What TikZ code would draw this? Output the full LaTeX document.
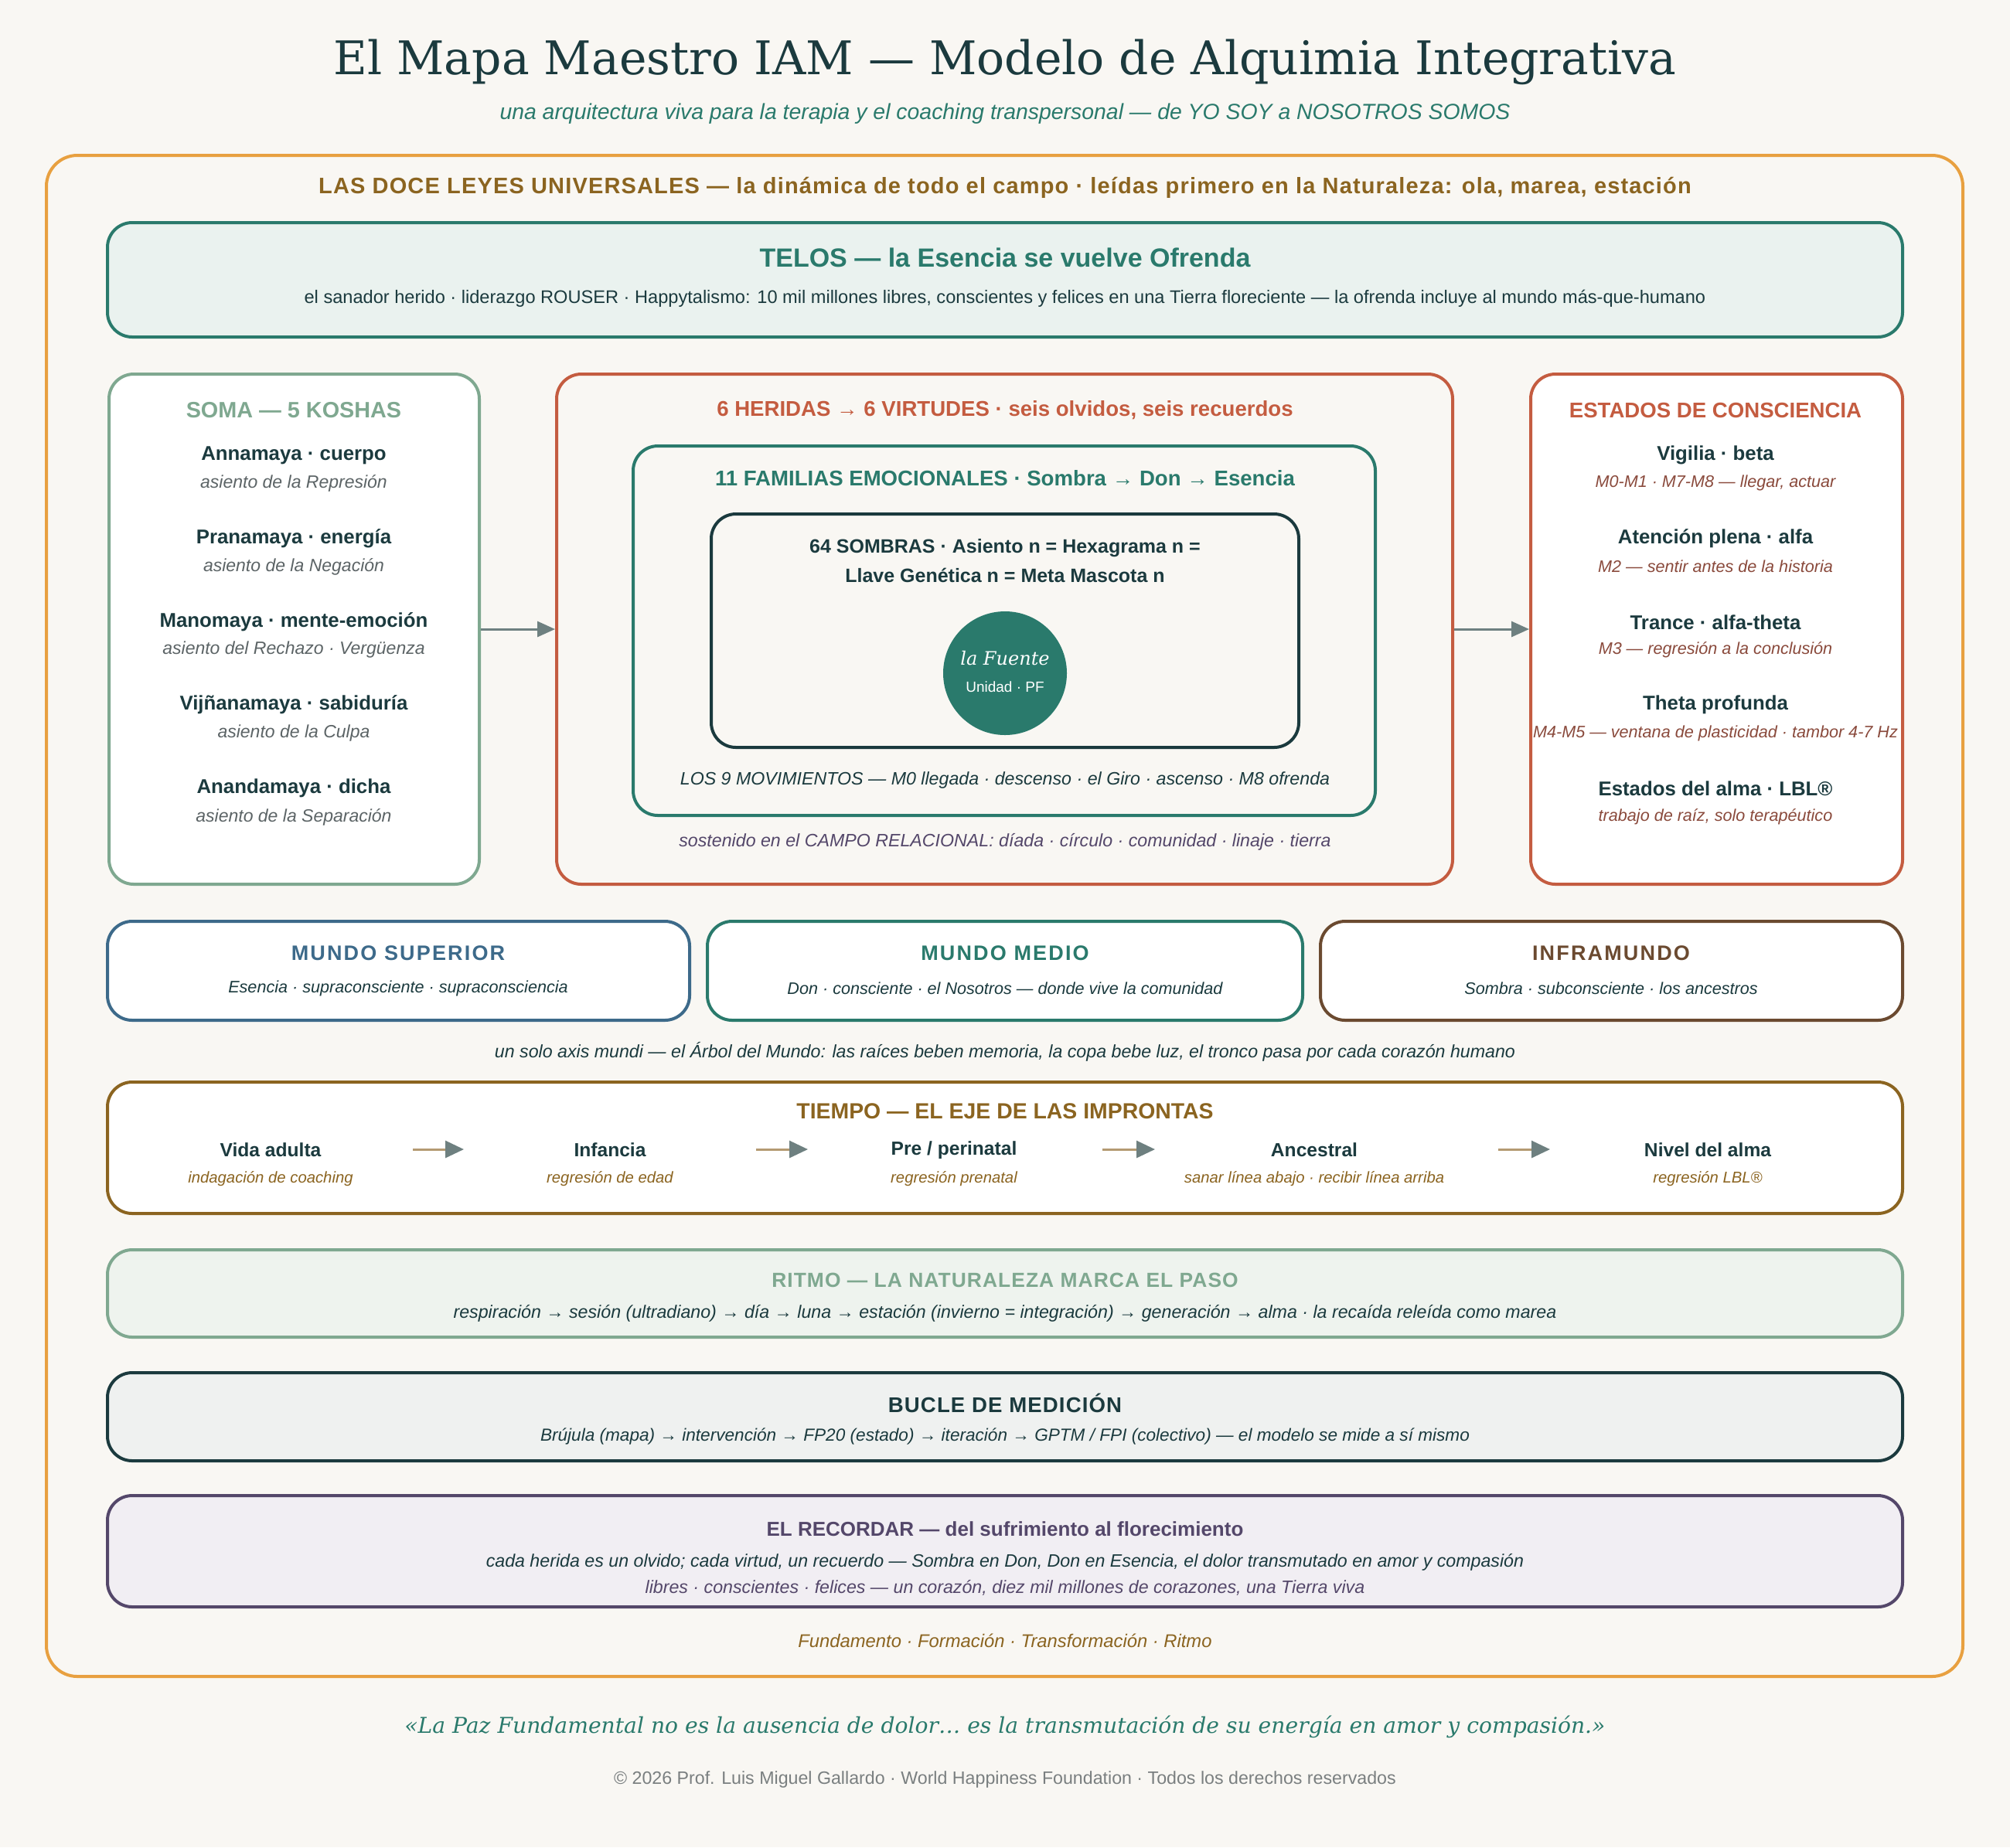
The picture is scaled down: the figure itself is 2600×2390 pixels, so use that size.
\documentclass[tikz,border=0pt]{standalone}
\usepackage{fontspec}
\setmainfont{Liberation Sans}
\newfontfamily\seriffam{DejaVu Serif}
\newfontfamily\spacedfam[LetterSpace=4]{Liberation Sans}
\newfontfamily\widefam[LetterSpace=8]{Liberation Sans}
\usetikzlibrary{arrows.meta}
\definecolor{bg}{HTML}{F9F7F3}
\definecolor{dark}{HTML}{1B3A3E}
\definecolor{teal}{HTML}{2A7A6C}
\definecolor{sage}{HTML}{7FA890}
\definecolor{terra}{HTML}{C45C40}
\definecolor{gold}{HTML}{8B6420}
\definecolor{orange}{HTML}{E8A040}
\definecolor{blue}{HTML}{3D6A8A}
\definecolor{brown}{HTML}{6B4A30}
\definecolor{purple}{HTML}{54476A}
\definecolor{greyit}{HTML}{5C6466}
\definecolor{redit}{HTML}{8A4A3C}
\definecolor{arrgrey}{HTML}{6E8080}
\definecolor{tan}{HTML}{B49A72}
\definecolor{telosfill}{HTML}{EAF2EF}
\definecolor{ritmofill}{HTML}{EEF3EE}
\definecolor{buclefill}{HTML}{EFF1F0}
\definecolor{recfill}{HTML}{F1EEF3}
\definecolor{copygrey}{HTML}{7A7F80}
\newcommand\fsz[1]{\fontsize{#1pt}{#1pt}\selectfont}
\begin{document}
\begin{tikzpicture}[x=0.5pt,y=-0.5pt,
  box/.style={draw, rounded corners=16pt, line width=2pt, inner sep=0pt},
  txt/.style={inner sep=0pt},
  hd/.style={txt, font=\bfseries\fsz{13.8}},
  sp/.style={txt, font=\spacedfam\bfseries\fsz{13.5}},
  wsp/.style={txt, font=\widefam\bfseries\fsz{13.5}},
  itm/.style={txt, font=\bfseries\fsz{12.9}, text=dark},
  its/.style={txt, font=\itshape\fsz{11.6}},
  eis/.style={txt, font=\itshape\fsz{10.8}, text=redit},
  sis/.style={txt, font=\itshape\fsz{11.5}, text=greyit},
  tim/.style={txt, font=\bfseries\fsz{12.3}, text=dark},
  tis/.style={txt, font=\itshape\fsz{10.15}, text=gold},
  mis/.style={txt, font=\itshape\fsz{10.8}, text=dark},
  arr/.style={line width=1.5pt, draw=arrgrey, -{Triangle[length=11.5pt,width=10pt,fill=arrgrey]}},
  tarr/.style={line width=1.5pt, draw=tan, -{Triangle[length=12pt,width=11pt,color=arrgrey,fill=arrgrey]}}
]
\useasboundingbox[fill=bg] (0,0) rectangle (2600,2390);

% title
\node[txt, font=\seriffam\fsz{30}, text=dark] (title) at (1300,80) {El Mapa Maestro IAM — Modelo de Alquimia Integrativa};
\node[txt, font=\itshape\fsz{14.2}, text=teal] (subtitle) at (1300,147) {una arquitectura viva para la terapia y el coaching transpersonal — de YO SOY a NOSOTROS SOMOS};

% outer frame
\node[box, draw=orange, rounded corners=20pt, minimum width=2479*0.5pt, minimum height=1968*0.5pt] (frame) at (1299.5,1185) {};
\node[txt, font=\spacedfam\bfseries\fsz{14.5}, text=gold] (leyes) at (1300,243) {LAS DOCE LEYES UNIVERSALES — la dinámica de todo el campo · leídas primero en la Naturaleza: ola, marea, estación};

% telos
\node[box, draw=teal, fill=telosfill, minimum width=2322*0.5pt, minimum height=148*0.5pt] (telos) at (1300,362) {};
\node[txt, font=\bfseries\fsz{17}, text=teal] (telosT) at (1300,333) {TELOS — la Esencia se vuelve Ofrenda};
\node[txt, font=\fsz{11.8}, text=dark] (telosB) at (1300,386) {el sanador herido · liderazgo ROUSER · Happytalismo: 10 mil millones libres, conscientes y felices en una Tierra floreciente — la ofrenda incluye al mundo más-que-humano};

% soma
\node[box, draw=sage, fill=white, minimum width=479*0.5pt, minimum height=660*0.5pt] (soma) at (380.5,814) {};
\node[hd, text=sage, font=\bfseries\fsz{14.4}] (somaT) at (380,531) {SOMA — 5 KOSHAS};
\node[itm] (s1) at (380,589) {Annamaya · cuerpo};
\node[sis] (s1i) at (380,625) {asiento de la Represión};
\node[itm] (s2) at (380,697) {Pranamaya · energía};
\node[sis] (s2i) at (380,733) {asiento de la Negación};
\node[itm] (s3) at (380,805) {Manomaya · mente-emoción};
\node[sis] (s3i) at (380,841) {asiento del Rechazo · Vergüenza};
\node[itm] (s4) at (380,912) {Vijñanamaya · sabiduría};
\node[sis] (s4i) at (380,949) {asiento de la Culpa};
\node[itm] (s5) at (380,1020) {Anandamaya · dicha};
\node[sis] (s5i) at (380,1057) {asiento de la Separación};

% heridas
\node[box, draw=terra, fill=bg, minimum width=1159*0.5pt, minimum height=660*0.5pt] (heridas) at (1299.5,814) {};
\node[hd, text=terra] (heridasT) at (1300,531) {6 HERIDAS → 6 VIRTUDES · seis olvidos, seis recuerdos};
\node[box, draw=teal, fill=bg, minimum width=960*0.5pt, minimum height=478*0.5pt] (familias) at (1299,816) {};
\node[hd, text=teal] (familiasT) at (1300,619) {11 FAMILIAS EMOCIONALES · Sombra → Don → Esencia};
\node[box, draw=dark, fill=bg, minimum width=760*0.5pt, minimum height=302*0.5pt] (sombras) at (1300,816) {};
\node[txt, font=\bfseries\fsz{12.5}, text=dark] (sombrasA) at (1300,709) {64 SOMBRAS · Asiento n = Hexagrama n =};
\node[txt, font=\bfseries\fsz{12.5}, text=dark] (sombrasB) at (1300,744) {Llave Genética n = Meta Mascota n};
\node[circle, fill=teal, minimum size=160*0.5pt, inner sep=0pt] (fuente) at (1300,871) {};
\node[txt, font=\seriffam\itshape\fsz{12}, text=white] (fuenteA) at (1300,852) {la Fuente};
\node[txt, font=\fsz{9.5}, text=white] (fuenteB) at (1300,889) {Unidad · PF};
\node[its, text=dark] (movs) at (1300,1009) {LOS 9 MOVIMIENTOS — M0 llegada · descenso · el Giro · ascenso · M8 ofrenda};
\node[its, text=purple] (campo) at (1300,1089) {sostenido en el CAMPO RELACIONAL: díada · círculo · comunidad · linaje · tierra};

% estados
\node[box, draw=terra, fill=white, minimum width=481*0.5pt, minimum height=660*0.5pt] (estados) at (2220.5,814) {};
\node[hd, text=terra] (estadosT) at (2219,531) {ESTADOS DE CONSCIENCIA};
\node[itm] (e1) at (2219,589) {Vigilia · beta};
\node[eis] (e1i) at (2219,625) {M0-M1 · M7-M8 — llegar, actuar};
\node[itm] (e2) at (2219,697) {Atención plena · alfa};
\node[eis] (e2i) at (2219,733) {M2 — sentir antes de la historia};
\node[itm] (e3) at (2219,805) {Trance · alfa-theta};
\node[eis] (e3i) at (2219,841) {M3 — regresión a la conclusión};
\node[itm] (e4) at (2219,912) {Theta profunda};
\node[eis] (e4i) at (2219,949) {M4-M5 — ventana de plasticidad · tambor 4-7 Hz};
\node[itm] (e5) at (2219,1020) {Estados del alma · LBL®};
\node[eis] (e5i) at (2219,1057) {trabajo de raíz, solo terapéutico};

\draw[arr] (soma.east) -- (heridas.west);
\draw[arr] (heridas.east) -- (estados.west);

% mundos
\node[box, draw=blue, fill=white, minimum width=753*0.5pt, minimum height=128*0.5pt] (msup) at (515.5,1256) {};
\node[wsp, text=blue] (msupT) at (515,1233) {MUNDO SUPERIOR};
\node[mis] (msupB) at (515,1279) {Esencia · supraconsciente · supraconsciencia};
\node[box, draw=teal, fill=white, minimum width=770*0.5pt, minimum height=128*0.5pt] (mmed) at (1300,1256) {};
\node[wsp, text=teal] (mmedT) at (1300,1233) {MUNDO MEDIO};
\node[mis] (mmedB) at (1300,1279) {Don · consciente · el Nosotros — donde vive la comunidad};
\node[box, draw=brown, fill=white, minimum width=753*0.5pt, minimum height=128*0.5pt] (minf) at (2084.5,1256) {};
\node[wsp, text=brown] (minfT) at (2084,1233) {INFRAMUNDO};
\node[mis] (minfB) at (2084,1279) {Sombra · subconsciente · los ancestros};
\node[its, text=dark] (axis) at (1300,1361) {un solo axis mundi — el Árbol del Mundo: las raíces beben memoria, la copa bebe luz, el tronco pasa por cada corazón humano};

% tiempo
\node[box, draw=gold, fill=white, minimum width=2322*0.5pt, minimum height=170*0.5pt] (tiempo) at (1300,1485) {};
\node[hd, text=gold, font=\bfseries\fsz{14.2}] (tiempoT) at (1300,1438) {TIEMPO — EL EJE DE LAS IMPRONTAS};
\node[tim] (t1) at (350,1488) {Vida adulta};
\node[tis] (t1i) at (350,1525) {indagación de coaching};
\node[tim] (t2) at (789,1488) {Infancia};
\node[tis] (t2i) at (789,1525) {regresión de edad};
\node[tim] (t3) at (1234,1488) {Pre / perinatal};
\node[tis] (t3i) at (1234,1525) {regresión prenatal};
\node[tim] (t4) at (1700,1488) {Ancestral};
\node[tis] (t4i) at (1700,1525) {sanar línea abajo · recibir línea arriba};
\node[tim] (t5) at (2209,1488) {Nivel del alma};
\node[tis] (t5i) at (2209,1525) {regresión LBL®};
\coordinate (a1s) at (534,1487); \coordinate (a1e) at (600,1487);
\coordinate (a2s) at (978,1487); \coordinate (a2e) at (1045,1487);
\coordinate (a3s) at (1426,1487); \coordinate (a3e) at (1494,1487);
\coordinate (a4s) at (1938,1487); \coordinate (a4e) at (2005,1487);
\draw[tarr] (a1s) -- (a1e);
\draw[tarr] (a2s) -- (a2e);
\draw[tarr] (a3s) -- (a3e);
\draw[tarr] (a4s) -- (a4e);

% ritmo
\node[box, draw=sage, fill=ritmofill, minimum width=2322*0.5pt, minimum height=113*0.5pt] (ritmo) at (1300,1673.5) {};
\node[sp, text=sage, font=\spacedfam\bfseries\fsz{13.2}] (ritmoT) at (1300,1656) {RITMO — LA NATURALEZA MARCA EL PASO};
\node[its, text=dark] (ritmoB) at (1300,1699) {respiración → sesión (ultradiano) → día → luna → estación (invierno = integración) → generación → alma · la recaída releída como marea};

% bucle
\node[box, draw=dark, fill=buclefill, minimum width=2322*0.5pt, minimum height=114*0.5pt] (bucle) at (1300,1833) {};
\node[sp, text=dark, font=\spacedfam\bfseries\fsz{13.8}] (bucleT) at (1300,1815) {BUCLE DE MEDICIÓN};
\node[its, text=dark, font=\itshape\fsz{11.3}] (bucleB) at (1300,1858) {Brújula (mapa) → intervención → FP20 (estado) → iteración → GPTM / FPI (colectivo) — el modelo se mide a sí mismo};

% recordar
\node[box, draw=purple, fill=recfill, minimum width=2322*0.5pt, minimum height=144*0.5pt] (recordar) at (1300,2007) {};
\node[hd, text=purple, font=\bfseries\fsz{13}] (recordarT) at (1300,1978) {EL RECORDAR — del sufrimiento al florecimiento};
\node[its, text=dark] (recordarA) at (1300,2021) {cada herida es un olvido; cada virtud, un recuerdo — Sombra en Don, Don en Esencia, el dolor transmutado en amor y compasión};
\node[its, text=purple] (recordarB) at (1300,2054) {libres · conscientes · felices — un corazón, diez mil millones de corazones, una Tierra viva};

\node[its, text=gold, font=\itshape\fsz{11.9}] (pilares) at (1300,2123) {Fundamento · Formación · Transformación · Ritmo};

% quote and copyright
\node[txt, font=\seriffam\itshape\fsz{14.1}, text=teal] (quote) at (1300,2234) {«La Paz Fundamental no es la ausencia de dolor… es la transmutación de su energía en amor y compasión.»};
\node[txt, font=\fsz{11.6}, text=copygrey] (copy) at (1300,2302) {© 2026 Prof. Luis Miguel Gallardo · World Happiness Foundation · Todos los derechos reservados};
\end{tikzpicture}
\end{document}
